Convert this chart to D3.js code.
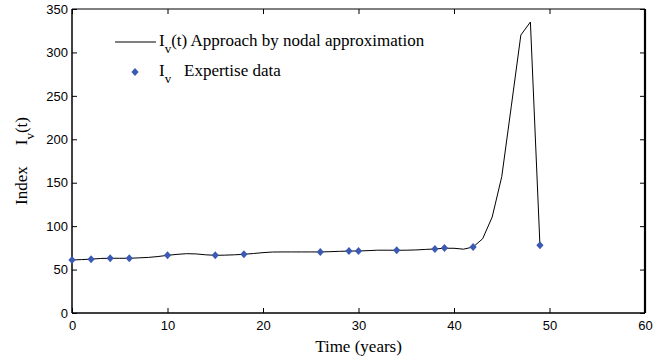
<!DOCTYPE html>
<html>
<head>
<meta charset="utf-8">
<script src="https://cdn.jsdelivr.net/npm/d3@7/dist/d3.min.js"></script>
<style>
  body { margin: 0; background: #fff; }
  .tick text { font-family: "Liberation Sans", Arial, sans-serif; font-size: 13px; fill: #000; }
  .serif { font-family: "Liberation Serif", "Times New Roman", serif; fill: #000; }
</style>
</head>
<body>
<svg id="chart"></svg>
<script>
// Approximation curve (one value per year)
const years = [0, 1, 2, 3, 4, 5, 6, 7, 8, 9, 10, 11, 12, 13, 14, 15, 16, 17, 18, 19, 20, 21, 22, 23, 24,
  25, 26, 27, 28, 29, 30, 31, 32, 33, 34, 35, 36, 37, 38, 39, 40, 41, 42, 43, 44, 45, 46, 47, 48, 49];
const approxValues = [61, 61.5, 62, 62.8, 63, 63, 63, 63.5, 64, 65, 66.4, 67.5, 68.3, 68, 67, 66.4, 66.6, 67, 67.6, 68.5,
  69.5, 70.2, 70.3, 70.3, 70.3, 70.3, 70.3, 70.6, 71, 71.3, 71.4, 71.8, 72.3, 72.3, 72.2, 72.3, 72.6, 73.2, 73.7, 74.6,
  74.5, 73.5, 76, 85.5, 110.5, 157, 238, 320, 335, 78];

// Expertise data points
const expertYears = [0, 2, 4, 6, 10, 15, 18, 26, 29, 30, 34, 38, 39, 42, 49];
const expertValues = [61, 62, 63, 63, 66.4, 66.4, 67.6, 70.3, 71.4, 71.4, 72.2, 73.7, 74.8, 76, 78];

// Axis ticks
const xTicks = [0, 10, 20, 30, 40, 50, 60];
const yTicks = [0, 50, 100, 150, 200, 250, 300, 350];

const W = 666, H = 362;
const margin = { top: 9, right: 21, bottom: 49, left: 72 };
const width = W - margin.left - margin.right;
const height = H - margin.top - margin.bottom;
const blue = "#3a5ab4";

const svg = d3.select("#chart").attr("width", W).attr("height", H);
const g = svg.append("g").attr("transform", `translate(${margin.left},${margin.top})`);

const x = d3.scaleLinear().domain([0, 60]).range([0, width]);
const y = d3.scaleLinear().domain([0, 350]).range([height, 0]);

// Axes, ticks pointing inward (box style)
g.append("g")
  .attr("transform", `translate(0,${height})`)
  .call(d3.axisBottom(x).tickValues(xTicks).tickSizeInner(-5).tickSizeOuter(0).tickPadding(7.5))
  .call(a => a.select(".domain").remove());

g.append("g")
  .call(d3.axisLeft(y).tickValues(yTicks).tickSizeInner(-5).tickSizeOuter(0).tickPadding(4))
  .call(a => a.select(".domain").remove());

g.append("g")
  .call(d3.axisTop(x).tickValues(xTicks).tickSizeInner(-5).tickSizeOuter(0).tickFormat(""))
  .call(a => a.select(".domain").remove());

g.append("g")
  .attr("transform", `translate(${width},0)`)
  .call(d3.axisRight(y).tickValues(yTicks).tickSizeInner(-5).tickSizeOuter(0).tickFormat(""))
  .call(a => a.select(".domain").remove());

g.selectAll(".tick line").attr("stroke", "#000").attr("stroke-width", 1);

// Frame
g.append("line").attr("x1", 0).attr("x2", width).attr("y1", 0).attr("y2", 0).attr("stroke", "#000").attr("stroke-width", 1.2);
g.append("line").attr("x1", 0).attr("x2", width).attr("y1", height).attr("y2", height).attr("stroke", "#000").attr("stroke-width", 1.5);
g.append("line").attr("x1", 0).attr("x2", 0).attr("y1", 0).attr("y2", height).attr("stroke", "#000").attr("stroke-width", 1.5);
g.append("line").attr("x1", width).attr("x2", width).attr("y1", 0).attr("y2", height).attr("stroke", "#000").attr("stroke-width", 2.2);

// Approximation line
const line = d3.line()
  .x((d, i) => x(years[i]))
  .y(d => y(d));

g.append("path")
  .datum(approxValues)
  .attr("fill", "none")
  .attr("stroke", "#000")
  .attr("stroke-width", 1)
  .attr("d", line);

// Diamond markers
const diamond = "M0,-4L3.6,0L0,4L-3.6,0Z";
g.selectAll(".pt")
  .data(expertValues)
  .enter()
  .append("path")
  .attr("class", "pt")
  .attr("d", diamond)
  .attr("fill", blue)
  .attr("transform", (d, i) => `translate(${x(expertYears[i])},${y(d)})`);

// Legend
const legend = svg.append("g");
legend.append("line")
  .attr("x1", 115).attr("x2", 156).attr("y1", 42).attr("y2", 42)
  .attr("stroke", "#000").attr("stroke-width", 1);
const t1 = legend.append("text").attr("class", "serif").attr("x", 159).attr("y", 46).style("font-size", "17px");
t1.append("tspan").text("I");
t1.append("tspan").attr("dy", 7).style("font-size", "13px").text("v");
t1.append("tspan").attr("dy", -7).text("(t) Approach by nodal approximation");

legend.append("path")
  .attr("d", diamond)
  .attr("fill", blue)
  .attr("transform", "translate(135,72)");
const t2 = legend.append("text").attr("class", "serif").attr("x", 159).attr("y", 76).style("font-size", "17px");
t2.append("tspan").text("I");
t2.append("tspan").attr("dy", 7).style("font-size", "13px").text("v");
t2.append("tspan").attr("dy", -7).attr("x", 184).text("Expertise data");

// Axis labels
svg.append("text")
  .attr("class", "serif")
  .attr("x", margin.left + width / 2)
  .attr("y", 352)
  .attr("text-anchor", "middle")
  .style("font-size", "17px")
  .text("Time (years)");

const yl = svg.append("text")
  .attr("class", "serif")
  .attr("transform", "translate(27,205) rotate(-90)")
  .attr("text-anchor", "start")
  .style("font-size", "17px");
yl.append("tspan").text("Index");
yl.append("tspan").attr("dx", 21).text("I");
yl.append("tspan").attr("dy", 7).style("font-size", "13px").text("v");
yl.append("tspan").attr("dy", -7).text("(t)");
</script>
</body>
</html>
